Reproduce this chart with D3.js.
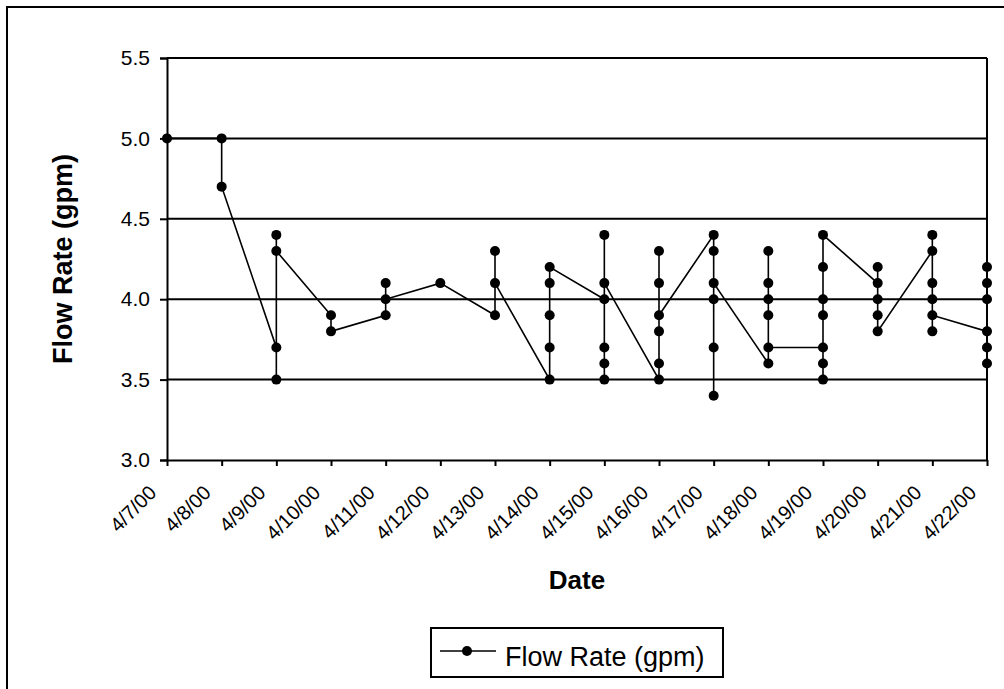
<!DOCTYPE html>
<html>
<head>
<meta charset="utf-8">
<script src="https://cdn.jsdelivr.net/npm/d3@7"></script>
<style>
  html, body { margin: 0; padding: 0; background: #fff; }
  svg { display: block; }
  text { font-family: Arial, "Liberation Sans", sans-serif; fill: #000; }
</style>
</head>
<body>
<svg id="chart" width="1004" height="689"></svg>
<script>
// Date categories on the x axis
const dates = ["4/7/00", "4/8/00", "4/9/00", "4/10/00", "4/11/00", "4/12/00", "4/13/00", "4/14/00",
               "4/15/00", "4/16/00", "4/17/00", "4/18/00", "4/19/00", "4/20/00", "4/21/00", "4/22/00"];

// Readings in the order they were logged: the day of each reading and its flow rate
const sampleDate = [
  "4/7/00",
  "4/8/00", "4/8/00",
  "4/9/00", "4/9/00", "4/9/00", "4/9/00",
  "4/10/00", "4/10/00",
  "4/11/00", "4/11/00", "4/11/00",
  "4/12/00",
  "4/13/00", "4/13/00", "4/13/00",
  "4/14/00", "4/14/00", "4/14/00", "4/14/00", "4/14/00",
  "4/15/00", "4/15/00", "4/15/00", "4/15/00", "4/15/00", "4/15/00",
  "4/16/00", "4/16/00", "4/16/00", "4/16/00", "4/16/00", "4/16/00",
  "4/17/00", "4/17/00", "4/17/00", "4/17/00", "4/17/00", "4/17/00",
  "4/18/00", "4/18/00", "4/18/00", "4/18/00", "4/18/00", "4/18/00",
  "4/19/00", "4/19/00", "4/19/00", "4/19/00", "4/19/00", "4/19/00", "4/19/00",
  "4/20/00", "4/20/00", "4/20/00", "4/20/00", "4/20/00",
  "4/21/00", "4/21/00", "4/21/00", "4/21/00", "4/21/00", "4/21/00",
  "4/22/00", "4/22/00", "4/22/00", "4/22/00", "4/22/00", "4/22/00"
];
const flowRate = [
  5.0,
  5.0, 4.7,
  3.7, 3.5, 4.4, 4.3,
  3.9, 3.8,
  3.9, 4.1, 4.0,
  4.1,
  3.9, 4.3, 4.1,
  3.5, 3.7, 3.9, 4.1, 4.2,
  4.0, 3.5, 3.6, 3.7, 4.4, 4.1,
  3.5, 3.6, 3.8, 4.3, 4.1, 3.9,
  4.4, 4.3, 4.0, 3.7, 3.4, 4.1,
  3.6, 3.9, 4.0, 4.1, 4.3, 3.7,
  3.7, 3.6, 3.5, 3.9, 4.0, 4.2, 4.4,
  4.1, 4.2, 4.0, 3.9, 3.8,
  4.3, 4.4, 4.1, 4.0, 3.8, 3.9,
  3.8, 3.7, 3.6, 4.0, 4.1, 4.2
];

// Value axis ticks
const yTicks = [3.0, 3.5, 4.0, 4.5, 5.0, 5.5];

const seriesName = "Flow Rate (gpm)";

const svg = d3.select("#chart");

const plot = { left: 167, right: 987, top: 58, bottom: 460 };

const x = d3.scalePoint().domain(dates).range([plot.left, plot.right]).padding(0);
const y = d3.scaleLinear().domain([3.0, 5.5]).range([plot.bottom, plot.top]);

// Outer chart frame (runs off the right and bottom edges)
svg.append("rect")
  .attr("x", 7).attr("y", 7)
  .attr("width", 1100).attr("height", 800)
  .attr("fill", "none").attr("stroke", "#000").attr("stroke-width", 2);

// Horizontal gridlines
svg.append("g")
  .selectAll("line")
  .data(yTicks.filter(d => d > 3.0))
  .join("line")
  .attr("x1", plot.left).attr("x2", plot.right)
  .attr("y1", d => y(d)).attr("y2", d => y(d))
  .attr("stroke", "#000").attr("stroke-width", 2);

// Right edge of the plot area
svg.append("line")
  .attr("x1", plot.right).attr("x2", plot.right)
  .attr("y1", plot.top).attr("y2", plot.bottom)
  .attr("stroke", "#000").attr("stroke-width", 2);

// Y axis
const yAxis = svg.append("g")
  .attr("transform", `translate(${plot.left},0)`)
  .call(d3.axisLeft(y).tickValues(yTicks).tickFormat(d3.format(".1f")).tickSize(7).tickPadding(10));
yAxis.select(".domain").attr("stroke", "#000").attr("stroke-width", 2);
yAxis.selectAll(".tick line").attr("stroke", "#000").attr("stroke-width", 2);
yAxis.selectAll(".tick text")
  .style("font-size", "21px")
  .attr("font-family", null);

// X axis with slanted date labels
const xAxis = svg.append("g")
  .attr("transform", `translate(0,${plot.bottom})`)
  .call(d3.axisBottom(x).tickSize(6).tickSizeOuter(0));
xAxis.select(".domain").attr("stroke", "#000").attr("stroke-width", 2);
xAxis.selectAll(".tick line").attr("stroke", "#000").attr("stroke-width", 2);
xAxis.selectAll(".tick text")
  .style("font-size", "20px")
  .attr("font-family", null)
  .attr("text-anchor", "end")
  .attr("dy", null)
  .attr("y", 0)
  .attr("transform", "translate(-10,34) rotate(-45)");

// Series line through every reading, in order
const points = flowRate.map((v, i) => ({ date: sampleDate[i], value: v }));

svg.append("path")
  .datum(points)
  .attr("fill", "none")
  .attr("stroke", "#000")
  .attr("stroke-width", 1.6)
  .attr("d", d3.line().x(d => x(d.date)).y(d => y(d.value)));

svg.append("g")
  .selectAll("circle")
  .data(points)
  .join("circle")
  .attr("cx", d => x(d.date))
  .attr("cy", d => y(d.value))
  .attr("r", 5)
  .attr("fill", "#000");

// Axis titles
svg.append("text")
  .attr("x", (plot.left + plot.right) / 2)
  .attr("y", 589)
  .attr("text-anchor", "middle")
  .style("font-size", "26px")
  .style("font-weight", "bold")
  .text("Date");

svg.append("text")
  .attr("transform", `translate(72,${(plot.top + plot.bottom) / 2}) rotate(-90)`)
  .attr("text-anchor", "middle")
  .style("font-size", "27px")
  .style("font-weight", "bold")
  .text("Flow Rate (gpm)");

// Legend
const legend = svg.append("g");
legend.append("rect")
  .attr("x", 431).attr("y", 628)
  .attr("width", 292).attr("height", 49)
  .attr("fill", "#fff").attr("stroke", "#000").attr("stroke-width", 2);
legend.append("line")
  .attr("x1", 440).attr("x2", 496)
  .attr("y1", 651).attr("y2", 651)
  .attr("stroke", "#000").attr("stroke-width", 1.6);
legend.append("circle")
  .attr("cx", 467).attr("cy", 651).attr("r", 5).attr("fill", "#000");
legend.append("text")
  .attr("x", 505).attr("y", 666)
  .style("font-size", "27px")
  .text(seriesName);
</script>
</body>
</html>
